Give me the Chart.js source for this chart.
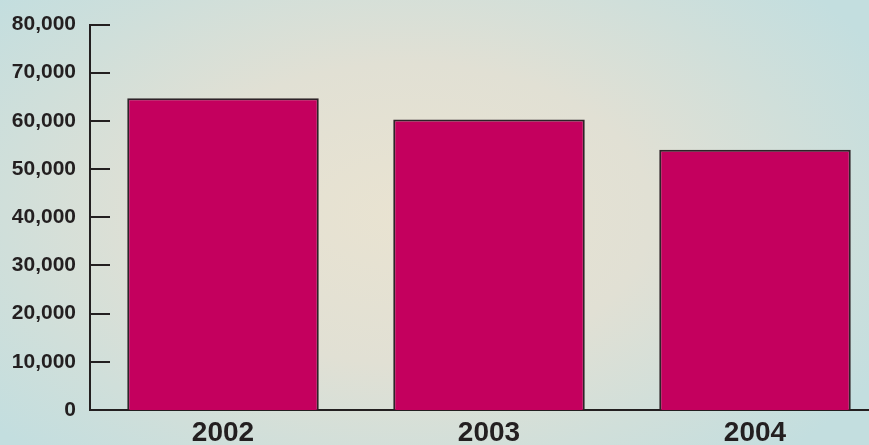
<!DOCTYPE html>
<html>
<head>
<meta charset="utf-8">
<script src="https://cdn.jsdelivr.net/npm/chart.js@4/dist/chart.umd.min.js"></script>
<style>
  html, body { margin: 0; padding: 0; overflow: hidden; }
  #wrap {
    width: 869px; height: 445px; overflow: hidden;
    background: radial-gradient(ellipse 62% 75% at 47% 48%, #E9E3D1 0%, #E1E0D4 45%, #D0DFDA 75%, #C3DEDF 100%);
  }
</style>
</head>
<body>
<div id="wrap"><canvas id="chart1" width="888" height="445"></canvas></div>
<script>
"use strict";
var years = ["2002", "2003", "2004"];
var values = [64700, 60300, 54000];
var yMin = 0, yMax = 80000, yStep = 10000;

// short tick marks pointing into the plot, like the original
var tickMarks = {
  id: "tickMarks",
  afterDatasetsDraw: function(chart) {
    var y = chart.scales.y;
    var ctx = chart.ctx;
    var left = chart.chartArea.left;
    ctx.save();
    ctx.strokeStyle = "#231f20";
    ctx.lineWidth = 2;
    y.ticks.forEach(function(t) {
      var py = Math.round(y.getPixelForValue(t.value));
      ctx.beginPath();
      ctx.moveTo(left, py);
      ctx.lineTo(left + 20, py);
      ctx.stroke();
    });
    ctx.restore();
  }
};

function chart1() {
  var ctx = document.getElementById("chart1");
  new Chart(ctx, {
    type: "bar",
    data: {
      labels: years,
      datasets: [
        {
          data: values,
          backgroundColor: "#C4005E",
          borderColor: "#2e2328",
          borderWidth: 2,
          categoryPercentage: 0.72,
          barPercentage: 1
        }
      ]
    },
    options: {
      responsive: false,
      animation: false,
      layout: { padding: { top: 20, right: 0, left: 0, bottom: 0 } },
      plugins: {
        legend: { display: false },
        tooltip: { enabled: false }
      },
      scales: {
        x: {
          grid: { display: false, drawTicks: false },
          border: { color: "#231f20", width: 2 },
          ticks: {
            padding: 6,
            color: "#231f20",
            font: { family: "Liberation Sans", size: 28, weight: "bold" }
          },
          afterFit: function(scale) { scale.height = 35; }
        },
        y: {
          min: yMin,
          max: yMax,
          grid: { display: false, drawTicks: false },
          border: { color: "#231f20", width: 2 },
          ticks: {
            stepSize: yStep,
            padding: 14,
            color: "#231f20",
            font: { family: "Liberation Sans", size: 21, weight: "bold", lineHeight: 1 },
            callback: function(v) { return v.toLocaleString("en-US"); }
          },
          afterFit: function(scale) { scale.width = 90; }
        }
      }
    },
    plugins: [tickMarks]
  });
}

chart1();
</script>
</body>
</html>
